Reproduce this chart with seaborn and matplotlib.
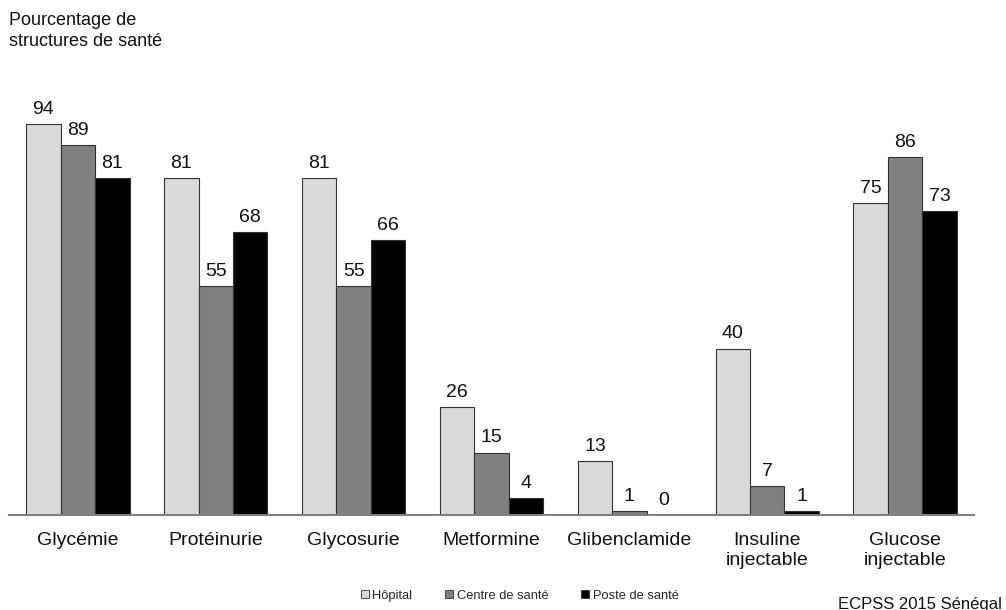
import matplotlib
matplotlib.use("Agg")
import matplotlib.pyplot as plt
import seaborn as sns
import pandas as pd
from matplotlib.lines import Line2D

categories = ["Glycémie", "Protéinurie", "Glycosurie", "Metformine",
              "Glibenclamide", "Insuline\ninjectable", "Glucose\ninjectable"]
series = ["Hôpital", "Centre de santé", "Poste de santé"]
hopital = [94, 81, 81, 26, 13, 40, 75]
centre = [89, 55, 55, 15, 1, 7, 86]
poste = [81, 68, 66, 4, 0, 1, 73]
colors = ["#d9d9d9", "#808080", "#000000"]

rows = []
for s, vals in zip(series, [hopital, centre, poste]):
    for c, v in zip(categories, vals):
        rows.append({"cat": c, "serie": s, "val": v})
df = pd.DataFrame(rows)

sns.set_style("white")
plt.rcParams["font.family"] = ["Liberation Sans", "DejaVu Sans"]

fig = plt.figure(figsize=(10.06, 6.10), dpi=100)
ax = fig.add_axes([9/1006, 95/610, 965/1006, 416/610])

sns.barplot(data=df, x="cat", y="val", hue="serie", order=categories,
            hue_order=series, palette=colors, width=0.75, ax=ax,
            edgecolor="#333333", linewidth=0.8, legend=False, saturation=1)

for cont in ax.containers:
    ax.bar_label(cont, padding=4.5, fontsize=14, color="#111111")

ax.set_xlim(-0.5, 6.5)
ax.set_ylim(0, 100)
ax.set_xlabel("")
ax.set_ylabel("")
ax.set_yticks([])
ax.tick_params(axis="x", length=0, labelsize=14, pad=12, colors="#111111")
for lab in ax.get_xticklabels():
    lab.set_linespacing(1.25)
for sp in ["left", "right", "top"]:
    ax.spines[sp].set_visible(False)
ax.spines["bottom"].set_color("#808080")
ax.spines["bottom"].set_linewidth(1.5)

fig.text(9/1006, 1 - 31/610, "Pourcentage de\nstructures de santé",
         fontsize=13, va="center", ha="left", linespacing=1.32, color="#111111")

handles = [Line2D([0], [0], marker="s", linestyle="", markersize=6,
                  markerfacecolor=c, markeredgecolor="#333333", markeredgewidth=0.6)
           for c in colors]
fig.legend(handles, series, loc="center left", bbox_to_anchor=(360/1006, 1 - 596/610),
           ncol=3, frameon=False, fontsize=9.3, handletextpad=0.25,
           columnspacing=2.5, handlelength=0.7, borderaxespad=0, borderpad=0)

fig.text(838/1006, 1 - 604/610, "ECPSS 2015 Sénégal", fontsize=12,
         ha="left", va="center", color="#111111")

fig.savefig("out.png", dpi=100)
